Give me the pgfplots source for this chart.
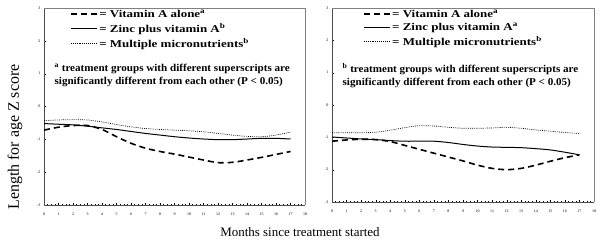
\documentclass[border=0pt]{standalone}
\usepackage{fontspec}
\setmainfont{Liberation Serif}
\usepackage{graphicx}
\usepackage{pgfplots}
\pgfplotsset{compat=1.18}
\pgfplotstableread{
m va zinc multi
0 -0.72 -0.52 -0.43
1 -0.63 -0.54 -0.41
2 -0.58 -0.56 -0.40
3 -0.58 -0.60 -0.41
4 -0.70 -0.65 -0.47
5 -0.92 -0.70 -0.55
6 -1.12 -0.76 -0.62
7 -1.27 -0.82 -0.67
8 -1.37 -0.87 -0.70
9 -1.45 -0.92 -0.72
10 -1.54 -0.96 -0.74
11 -1.63 -0.99 -0.77
12 -1.71 -1.01 -0.82
13 -1.70 -1.01 -0.87
14 -1.63 -0.99 -0.91
15 -1.55 -0.97 -0.92
16 -1.46 -0.97 -0.87
17 -1.37 -0.99 -0.78
}\lefttab
\pgfplotstableread{
m va zinc multi
0 -1.12 -0.99 -0.86
1 -1.08 -1.02 -0.86
2 -1.06 -1.05 -0.86
3 -1.07 -1.07 -0.84
4 -1.13 -1.10 -0.78
5 -1.25 -1.12 -0.70
6 -1.37 -1.12 -0.64
7 -1.49 -1.12 -0.65
8 -1.61 -1.16 -0.69
9 -1.73 -1.22 -0.72
10 -1.86 -1.27 -0.72
11 -1.96 -1.30 -0.71
12 -2.00 -1.31 -0.69
13 -1.96 -1.32 -0.72
14 -1.86 -1.35 -0.77
15 -1.74 -1.39 -0.81
16 -1.63 -1.46 -0.85
17 -1.54 -1.54 -0.88
}\righttab
\newcommand{\legtxt}[1]{\scalebox{1.24}[1]{#1}}
\newcommand{\notetxt}[1]{\scalebox{1.06}[1]{#1}}
\pgfplotsset{
  panel/.style={
    scale only axis,
    anchor=south west,
    xmin=0, xmax=18, ymin=-3, ymax=3,
    xtick={0,...,18}, ytick={-3,...,3},
    minor x tick num=3, minor y tick num=9,
    axis x line*=bottom, axis y line*=left,
    axis line style={black!70, line width=0.4bp},
    tick align=inside,
    major tick length=2bp, minor tick length=1.2bp,
    tick style={black, line width=0.3bp},
    ticklabel style={font=\fontsize{4}{4}\selectfont},
    /pgf/number format/assume math mode=true,
    xticklabel style={yshift=-4bp},
    clip=false,
    legend cell align=left,
    legend image code/.code={\draw[##1] (0bp,0bp) -- (26bp,0bp);},
    legend style={draw=none, fill=none, inner sep=0pt, row sep=1.5bp,
      font=\bfseries\fontsize{10.5}{11}\selectfont,
      nodes={inner sep=1.5bp}},
    after end axis/.code={\draw[gray, line width=0.8bp] (rel axis cs:0,1) -- (rel axis cs:1,1) -- (rel axis cs:1,0);},
  },
  vastyle/.style={black, line width=1.6bp, dash pattern=on 6bp off 4bp},
  zincstyle/.style={black, line width=1bp},
  multistyle/.style={black, line width=0.7bp, dash pattern=on 0.8bp off 1.1bp},
}
\begin{document}
\begin{tikzpicture}
\path[use as bounding box] (0bp,0bp) rectangle (600bp,247bp);
\begin{axis}[panel, at={(44bp,42bp)}, width=261bp, height=197bp,
  legend style={at={(rel axis cs:0.0996,1.0)}, anchor=north west}]
\addplot[vastyle, smooth] table[x=m, y=va] {\lefttab};
\addlegendentry{\legtxt{= Vitamin A alone\textsuperscript{a}}}
\addplot[zincstyle, smooth] table[x=m, y=zinc] {\lefttab};
\addlegendentry{\legtxt{= Zinc plus vitamin A\textsuperscript{b}}}
\addplot[multistyle, smooth] table[x=m, y=multi] {\lefttab};
\addlegendentry{\legtxt{= Multiple micronutrients\textsuperscript{b}}}
\node[anchor=north west, align=left, inner sep=0pt, font=\bfseries\fontsize{10.5}{13}\selectfont]
  at (rel axis cs:0.04,0.716) {\notetxt{\textsuperscript{a} treatment groups with different superscripts are}\\ \notetxt{significantly different from each other (P < 0.05)}};
\end{axis}
\begin{axis}[panel, at={(332bp,45bp)}, width=262bp, height=194bp,
  legend style={at={(rel axis cs:0.118,1.0)}, anchor=north west}]
\addplot[vastyle, smooth] table[x=m, y=va] {\righttab};
\addlegendentry{\legtxt{= Vitamin A alone\textsuperscript{a}}}
\addplot[zincstyle, smooth] table[x=m, y=zinc] {\righttab};
\addlegendentry{\legtxt{= Zinc plus vitamin A\textsuperscript{a}}}
\addplot[multistyle, smooth] table[x=m, y=multi] {\righttab};
\addlegendentry{\legtxt{= Multiple micronutrients\textsuperscript{b}}}
\node[anchor=north west, align=left, inner sep=0pt, font=\bfseries\fontsize{10.5}{13}\selectfont]
  at (rel axis cs:0.04,0.716) {\notetxt{\textsuperscript{b} treatment groups with different superscripts are}\\ \notetxt{significantly different from each other (P < 0.05)}};
\end{axis}
\node[rotate=90, font=\fontsize{16}{16}\selectfont] at (15bp,110bp) {Length for age Z score};
\node[font=\fontsize{13}{13}\selectfont] at (300bp,15bp) {Months since treatment started};
\end{tikzpicture}
\end{document}
